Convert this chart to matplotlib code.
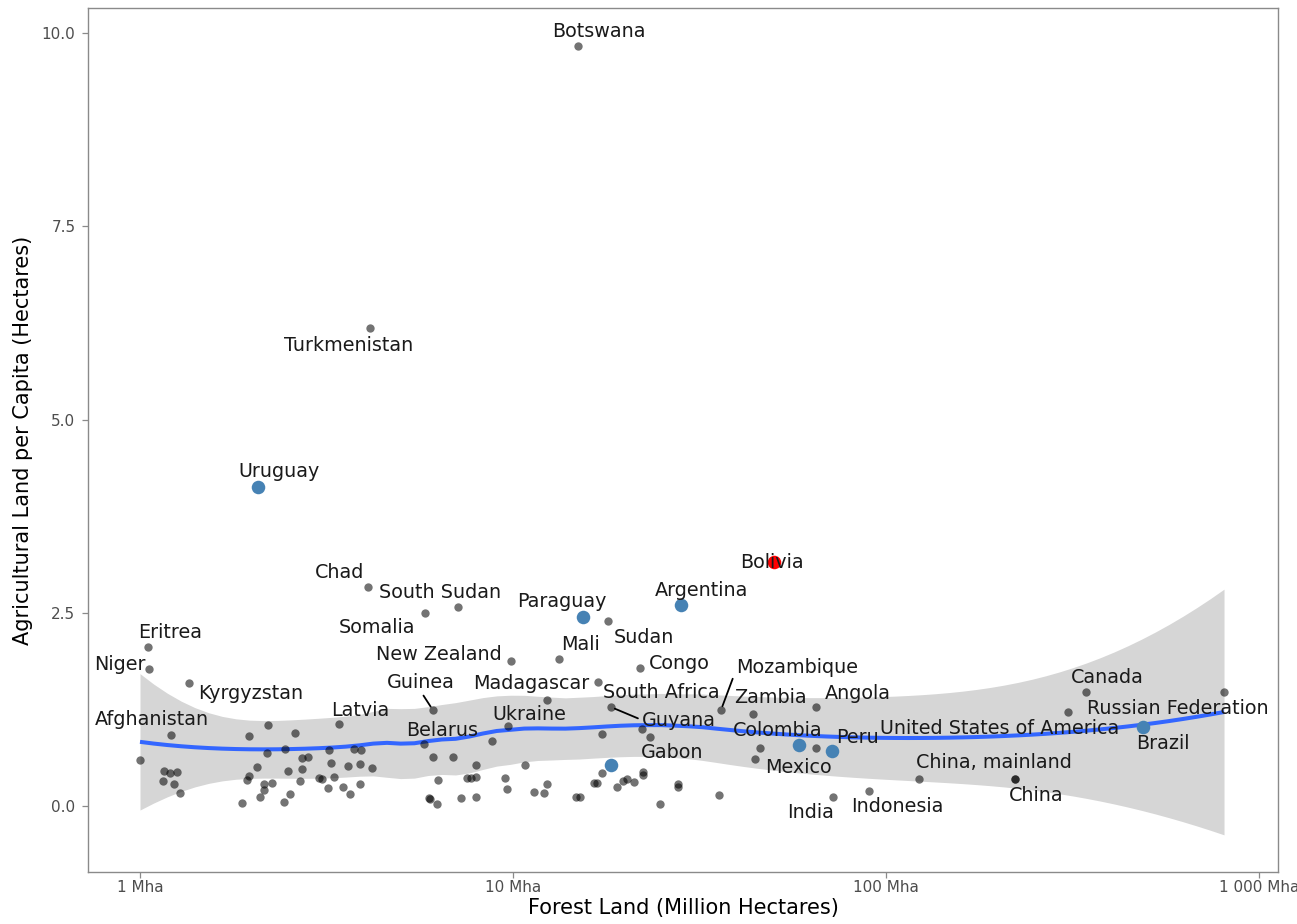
import numpy as np
import matplotlib
matplotlib.use("Agg")
import matplotlib.pyplot as plt
from matplotlib.ticker import FixedLocator, FixedFormatter

# ---------------- data ----------------
# labelled countries: forest land (Mha), agricultural land per capita (ha)
countries = ["Botswana", "Turkmenistan", "Uruguay", "Bolivia", "Chad", "South Sudan",
             "Somalia", "Eritrea", "Niger", "Kyrgyzstan", "Afghanistan", "Latvia",
             "Guinea", "Belarus", "Ukraine", "New Zealand", "Madagascar", "Mali",
             "Paraguay", "Sudan", "Argentina", "Congo", "South Africa", "Guyana",
             "Mozambique", "Zambia", "Angola", "Colombia", "Peru", "Mexico", "Gabon",
             "India", "Indonesia", "United States of America", "Canada",
             "Russian Federation", "Brazil", "China, mainland", "China"]
forest = [14.94, 4.14, 2.07, 50.1, 4.09, 7.12,
          5.81, 1.05, 1.06, 1.35, 1.21, 3.42,
          6.10, 8.78, 9.69, 9.88, 12.34, 13.29,
          15.40, 17.97, 28.21, 21.90, 16.90, 18.31,
          36.1, 44.0, 64.9, 58.5, 71.6, 64.9, 23.3,
          72.1, 90.0, 307.6, 343.8,
          805.8, 488.7, 221.7, 221.7]
agri_pc = [9.83, 6.18, 4.13, 3.16, 2.83, 2.57,
           2.50, 2.06, 1.77, 1.59, 0.92, 1.06,
           1.24, 0.84, 1.03, 1.88, 1.37, 1.90,
           2.45, 2.39, 2.60, 1.79, 1.60, 1.28,
           1.24, 1.19, 1.28, 0.79, 0.71, 0.75, 0.89,
           0.12, 0.19, 1.22, 1.47,
           1.47, 1.02, 0.35, 0.35]
highlight_blue = ["Uruguay", "Paraguay", "Argentina", "Colombia", "Peru", "Brazil"]
highlight_red = ["Bolivia"]

# unlabelled blue country (South America)
blue_forest = [18.31]
blue_agri = [0.53]

# unlabelled countries
other_forest = [122.6, 1.00, 1.16, 1.20, 1.26, 1.15, 1.23, 1.28, 1.96, 2.20, 2.60, 2.19,
                2.45, 2.72, 2.82, 2.06, 2.49, 2.72, 1.96, 1.94, 2.15, 2.26, 2.15, 2.10,
                1.88, 2.43, 2.52, 2.69, 3.02, 3.08, 3.21, 3.75, 3.91, 3.25, 3.61, 3.89,
                4.19, 3.31, 3.19, 3.50, 3.66, 3.89, 5.77, 6.10, 6.91, 6.30, 5.95, 6.00,
                6.26, 7.25, 7.96, 7.53, 7.72, 7.96, 7.96, 9.52, 9.64, 10.77, 11.38, 12.11,
                12.34, 14.75, 15.12, 16.49, 16.80, 17.32, 19.00, 19.72, 20.21, 21.10,
                22.31, 22.31, 24.79, 27.70, 27.70, 17.32, 22.17, 45.94, 44.54, 35.67]
other_agri = [0.35, 0.60, 0.45, 0.43, 0.44, 0.32, 0.28, 0.17, 0.91, 1.05, 0.94, 0.69,
              0.74, 0.62, 0.63, 0.50, 0.45, 0.48, 0.39, 0.34, 0.28, 0.30, 0.21, 0.12,
              0.04, 0.05, 0.16, 0.32, 0.36, 0.35, 0.72, 0.74, 0.72, 0.56, 0.52, 0.54,
              0.49, 0.38, 0.23, 0.25, 0.16, 0.28, 0.80, 0.63, 0.63, 0.34, 0.10, 0.09,
              0.03, 0.10, 0.53, 0.36, 0.36, 0.38, 0.12, 0.36, 0.22, 0.53, 0.18, 0.17,
              0.28, 0.12, 0.12, 0.30, 0.30, 0.43, 0.25, 0.32, 0.35, 0.31,
              0.44, 0.40, 0.03, 0.28, 0.25, 0.93, 1.00, 0.75, 0.61, 0.14]

x_ticks = [1, 10, 100, 1000]
x_tick_labels = ["1 Mha", "10 Mha", "100 Mha", "1 000 Mha"]
y_ticks = [0.0, 2.5, 5.0, 7.5, 10.0]
y_tick_labels = ["0.0", "2.5", "5.0", "7.5", "10.0"]

# label offsets in pixels (layout only)
label_offsets = {
    "Botswana": (21, 15), "Turkmenistan": (-22, -17), "Uruguay": (21, 15),
    "Bolivia": (-2, -1), "Chad": (-29, 15), "South Sudan": (-18, 15),
    "Somalia": (-48, -15), "Eritrea": (22, 14), "Niger": (-30, 5),
    "Kyrgyzstan": (62, -10), "Afghanistan": (-19, 15), "Latvia": (21, 14),
    "Guinea": (-12, 28), "Belarus": (-50, 11), "Ukraine": (21, 12),
    "New Zealand": (-72, 6), "Madagascar": (-16, 17), "Mali": (21, 15),
    "Paraguay": (-21, 15), "Sudan": (36, -16), "Argentina": (21, 15),
    "Congo": (39, 4), "South Africa": (63, -10), "Guyana": (68, -13),
    "Mozambique": (76, 43), "Zambia": (17, 17), "Angola": (42, 14),
    "Colombia": (-21, 14), "Peru": (26, 14), "Mexico": (-18, -19),
    "Gabon": (22, -15), "India": (-22, -16), "Indonesia": (28, -15),
    "United States of America": (-68, -17), "Canada": (21, 15),
    "Russian Federation": (-46, -16), "Brazil": (20, -16),
    "China, mainland": (-21, 16), "China": (21, -17),
}
segment_labels = {"Guinea": (0.5, 0.0), "Guyana": (0.0, 0.5), "Mozambique": (0.0, 0.35)}


# ---------------- loess (degree 2, span 0.75) ----------------
def loess_rows(xd, x0s, span=0.75):
    n = len(xd)
    q = int(np.floor(n * span))
    L = np.zeros((len(x0s), n))
    for k, x0 in enumerate(x0s):
        d = np.abs(xd - x0)
        h = np.sort(d)[q - 1]
        w = np.clip(1 - (d / h) ** 3, 0, None) ** 3
        X = np.column_stack([np.ones(n), xd - x0, (xd - x0) ** 2])
        XtW = X.T * w
        L[k] = np.linalg.solve(XtW @ X, XtW)[0]
    return L


all_x = np.log10(np.array(forest + blue_forest + other_forest))
all_y = np.array(agri_pc + blue_agri + other_agri)
n = len(all_x)
Ld = loess_rows(all_x, all_x)
res = all_y - Ld @ all_y
M = np.eye(n) - Ld
R = M.T @ M
d1 = np.trace(R)
d2 = np.trace(R @ R)
s = np.sqrt(np.sum(res ** 2) / d1)
dfree = d1 ** 2 / d2
z = 1.959964
tq = z + (z ** 3 + z) / (4 * dfree) + (5 * z ** 5 + 16 * z ** 3 + 3 * z) / (96 * dfree ** 2)
xg = np.linspace(all_x.min(), all_x.max(), 80)
Lg = loess_rows(all_x, xg)
fit = Lg @ all_y
se = s * np.sqrt(np.sum(Lg ** 2, axis=1))

# ---------------- plot ----------------
W, H = 1297, 924
fig = plt.figure(figsize=(W / 100, H / 100), dpi=100)
ax = fig.add_axes([88 / W, 1 - 872 / H, (1278 - 88) / W, (872 - 8) / H])
ax.set_xscale("log")

ax.fill_between(10 ** xg, fit - tq * se, fit + tq * se, color="#999999", alpha=0.4,
                linewidth=0, zorder=1)
ax.plot(10 ** xg, fit, color="#3366FF", lw=2.9, zorder=2, solid_capstyle="butt")

grey_x = [f for c, f in zip(countries, forest) if c not in highlight_blue + highlight_red] + other_forest
grey_y = [a for c, a in zip(countries, agri_pc) if c not in highlight_blue + highlight_red] + other_agri
ax.scatter(grey_x, grey_y, s=36, color="black", alpha=0.55, linewidths=0, zorder=3)

bx = [f for c, f in zip(countries, forest) if c in highlight_blue] + blue_forest
by = [a for c, a in zip(countries, agri_pc) if c in highlight_blue] + blue_agri
ax.scatter(bx, by, s=95, color="#4682B4", linewidths=0, zorder=4)
rx = [f for c, f in zip(countries, forest) if c in highlight_red]
ry = [a for c, a in zip(countries, agri_pc) if c in highlight_red]
ax.scatter(rx, ry, s=95, color="#FF0000", linewidths=0, zorder=4)

for c, f, a in zip(countries, forest, agri_pc):
    dx, dy = label_offsets[c]
    kw = {}
    if c in segment_labels:
        kw["arrowprops"] = dict(arrowstyle="-", color="black", lw=1.3,
                                shrinkA=1, shrinkB=3, relpos=segment_labels[c])
    ax.annotate(c, xy=(f, a), xytext=(dx, dy), textcoords="offset pixels",
                ha="center", va="center", fontsize=13.8, color="#1a1a1a",
                family="DejaVu Sans", zorder=5, **kw)

ax.set_xlim(10 ** ((88 - 140) / 373), 10 ** ((1278 - 140) / 373))
ax.set_ylim((806 - 872) / 77.3, (806 - 8) / 77.3)
ax.xaxis.set_major_locator(FixedLocator(x_ticks))
ax.xaxis.set_major_formatter(FixedFormatter(x_tick_labels))
ax.xaxis.set_minor_locator(FixedLocator([]))
ax.yaxis.set_major_locator(FixedLocator(y_ticks))
ax.yaxis.set_major_formatter(FixedFormatter(y_tick_labels))

for sp in ax.spines.values():
    sp.set_color("#8a8a8a")
    sp.set_linewidth(1.0)
ax.tick_params(axis="both", which="major", length=4, width=0.9, color="#8a8a8a",
               labelsize=11, labelcolor="#4d4d4d")
ax.tick_params(axis="x", pad=2)
ax.tick_params(axis="y", pad=5)
ax.set_xlabel("Forest Land (Million Hectares)", fontsize=15, color="black", labelpad=2)
ax.set_ylabel("Agricultural Land per Capita (Hectares)", fontsize=15, color="black", labelpad=6)
ax.grid(False)

fig.savefig("out.png", dpi=100)
